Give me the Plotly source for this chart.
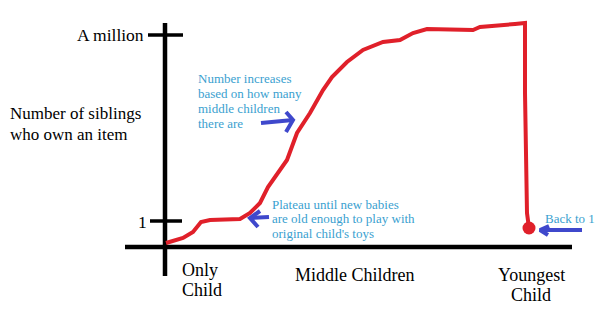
import plotly.graph_objects as go

# Coordinates: origin at the axis crossing; 1 unit ~ 1 px
curve_x = [1, 18, 28, 36, 45, 75, 85, 95, 103, 112, 122, 132, 145, 158, 167, 182, 198, 218, 235, 248, 262, 308, 315, 350, 360, 360, 362, 364]
curve_y = [4, 9, 15, 25, 27, 28, 34, 44, 60, 72, 87, 114, 134, 157, 170, 185, 197, 205, 207, 214, 218, 217, 220, 223, 224, 154, 34, 19]
end_point = (364, 19)

x_axis_span = (-40, 407)
y_axis_span = (-29, 224)
tick_levels = [26, 212]
tick_labels = ["1", "A million"]
tick_spans = [(-15, 17), (-17, 18)]

arrows = [
    {"shaft": [(96, 124), (128, 127)], "head": [(121, 135), (128, 127), (121, 115)]},
    {"shaft": [(104, 30), (85, 29)], "head": [(95, 36), (85, 29), (93, 20)]},
    {"shaft": [(417, 17), (375, 17)], "head": [(384, 21), (375, 17), (383, 12)]},
]

y_title_lines = ["Number of siblings", "who own an item"]
note1_lines = ["Number increases", "based on how many", "middle children", "there are"]
note2_lines = ["Plateau until new babies", "are old enough to play with", "original child's toys"]
note3 = "Back to 1"
cat_labels = [("Only", 16, -23, "left"), ("Child", 16, -43, "left"),
              ("Middle Children", 129, -28, "left"),
              ("Youngest", 366, -28, "center"), ("Child", 366, -48, "center")]

RED = "#e0202a"
BLUE = "#3f48cc"
CYAN = "#3a9fd0"
SERIF = "Liberation Serif"

fig = go.Figure()

# axes
fig.add_trace(go.Scatter(x=list(x_axis_span), y=[0, 0], mode="lines",
                         line=dict(color="black", width=4.5), hoverinfo="skip"))
fig.add_trace(go.Scatter(x=[0, 0], y=list(y_axis_span), mode="lines",
                         line=dict(color="black", width=4.5), hoverinfo="skip"))
for lvl, (a, b) in zip(tick_levels, tick_spans):
    fig.add_trace(go.Scatter(x=[a, b], y=[lvl, lvl], mode="lines",
                             line=dict(color="black", width=3.5), hoverinfo="skip"))

# curve
fig.add_trace(go.Scatter(x=curve_x, y=curve_y, mode="lines",
                         line=dict(color=RED, width=4), hoverinfo="skip"))
fig.add_trace(go.Scatter(x=[end_point[0]], y=[end_point[1]], mode="markers",
                         marker=dict(color=RED, size=13), hoverinfo="skip"))

# arrows
for arr in arrows:
    for seg in (arr["shaft"], arr["head"]):
        fig.add_trace(go.Scatter(x=[p[0] for p in seg], y=[p[1] for p in seg], mode="lines",
                                 line=dict(color=BLUE, width=4), hoverinfo="skip"))

ann = []
def add_text(text, x, y, size, color, xanchor="left"):
    ann.append(dict(x=x, y=y, text=text, showarrow=False, xanchor=xanchor, yanchor="middle",
                    font=dict(family=SERIF, size=size, color=color), borderpad=0))

add_text(tick_labels[1], -20, 212, 17.5, "black", "right")
add_text(tick_labels[0], -23, 25, 17.5, "black", "center")
add_text(y_title_lines[0], -156, 134, 17, "black")
add_text(y_title_lines[1], -156, 113, 17, "black")
for i, t in enumerate(note1_lines):
    add_text(t, 32, 169 - 15 * i, 13, CYAN)
for i, t in enumerate(note2_lines):
    add_text(t, 106, 43 - 14.5 * i, 13, CYAN)
add_text(note3, 379, 29, 13, CYAN)
for t, x, y, a in cat_labels:
    add_text(t, x, y, 18, "black", a)

fig.update_layout(
    width=608, height=316, margin=dict(l=0, r=0, t=0, b=0),
    paper_bgcolor="white", plot_bgcolor="white", showlegend=False,
    xaxis=dict(range=[-165, 443], visible=False, fixedrange=True),
    yaxis=dict(range=[-69, 247], visible=False, fixedrange=True),
    annotations=ann,
)

fig.write_html("out.html")
